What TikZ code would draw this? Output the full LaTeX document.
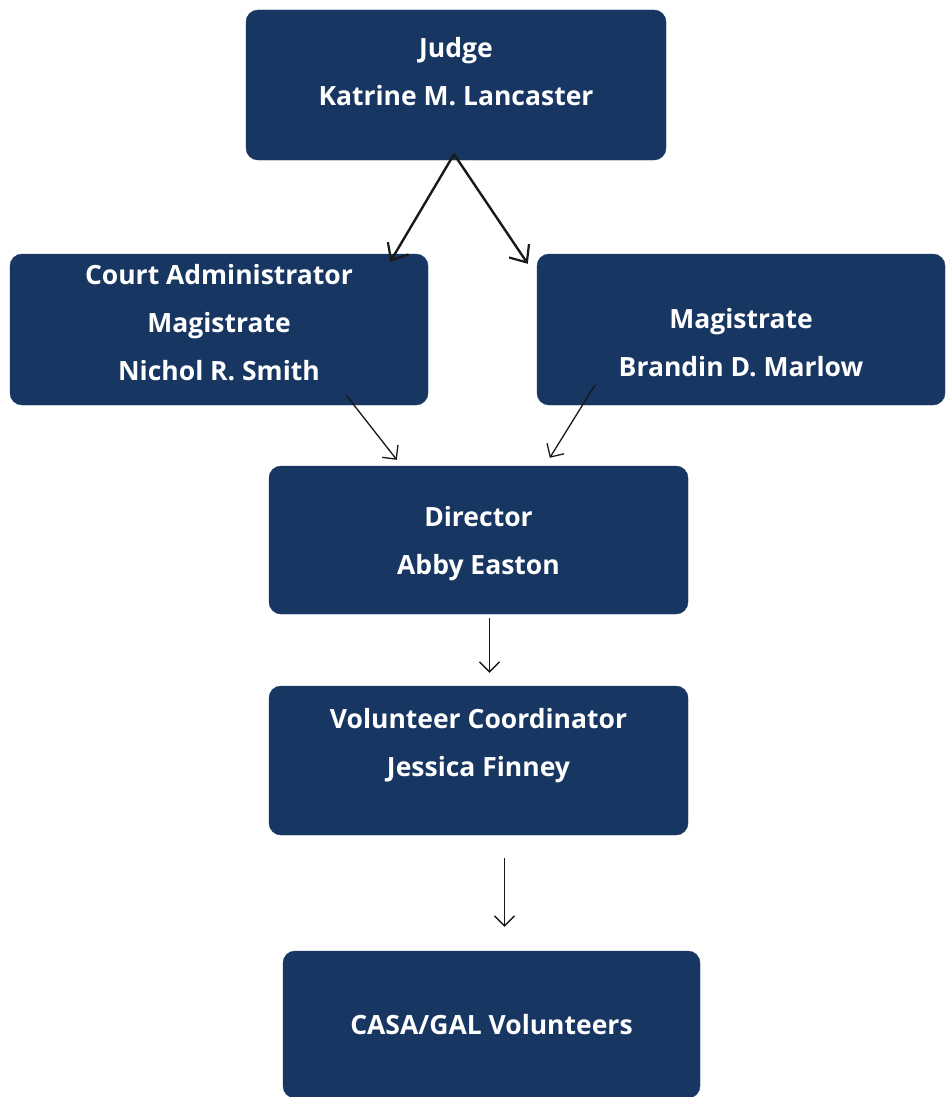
\documentclass[tikz,border=0pt]{standalone}
\usepackage{fontspec}
\setmainfont{Open Sans}
\usetikzlibrary{arrows.meta,calc}
\definecolor{navy}{RGB}{24,54,98}
\definecolor{ink}{RGB}{25,25,25}
\newcommand{\lines}[2]{\raisebox{#1}[0pt][0pt]{\begin{tabular}{@{}c@{}}#2\end{tabular}}}
\tikzset{
  box/.style={rectangle, rounded corners=12pt, fill=navy, draw=navy, text=white,
    align=center, inner sep=0pt, font=\bfseries\fontsize{26.5}{48}\selectfont},
  thick arrow/.style={draw=ink, line width=2.4pt, -{Straight Barb[length=14pt,width=24pt,line width=2.2pt]}},
  thin arrow/.style={draw=ink, line width=1.3pt, -{Straight Barb[length=10pt,width=20pt,line width=1.3pt]}}
}
\begin{document}
\begin{tikzpicture}[x=1pt,y=-1pt]
\useasboundingbox[fill=white] (0,0) rectangle (947,1097);
\node[box, minimum width=420pt, minimum height=150pt] (judge) at (456,85)
  {\lines{7pt}{Judge\\Katrine M. Lancaster}};
\node[box, minimum width=418pt, minimum height=151pt] (court) at (219,329.5)
  {\lines{0.5pt}{Court Administrator\\Magistrate\\Nichol R. Smith}};
\node[box, minimum width=408pt, minimum height=151pt] (mag) at (741,329.5)
  {\lines{-20pt}{Magistrate\\Brandin D. Marlow}};
\node[box, minimum width=419pt, minimum height=148pt] (dir) at (478.5,540)
  {\lines{-7pt}{Director\\Abby Easton}};
\node[box, minimum width=419pt, minimum height=149pt] (vc) at (478.5,760.5)
  {\lines{11.5pt}{Volunteer Coordinator\\Jessica Finney}};
\node[box, minimum width=417pt, minimum height=147pt] (casa) at (491.5,1024.5)
  {CASA/GAL Volunteers};
\draw[thick arrow] ($(judge.south)+(-2,-6)$) -- ($(court.north east)+(-38,8)$);
\draw[thick arrow] ($(judge.south)+(-2,-6)$) -- ($(mag.north west)+(-9,10)$);
\draw[thin arrow] ($(court.south east)+(-82,-10)$) -- ($(dir.north west)+(128,-6)$);
\draw[thin arrow] ($(mag.south west)+(58,-20)$) -- ($(dir.north west)+(281,-8)$);
\draw[thin arrow] ($(dir.south)+(11,4)$) -- ($(vc.north)+(11,-13)$);
\draw[thin arrow] ($(vc.south)+(26,23)$) -- ($(casa.north)+(13,-24)$);
\end{tikzpicture}
\end{document}
